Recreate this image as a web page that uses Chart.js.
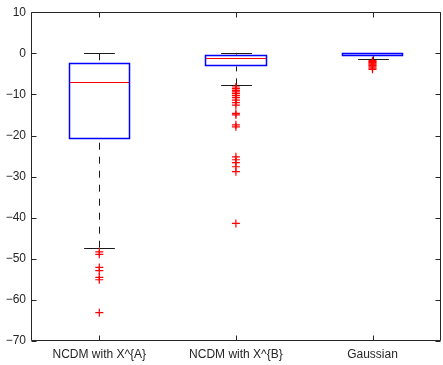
<!DOCTYPE html>
<html>
<head>
<meta charset="utf-8">
<script src="https://cdn.jsdelivr.net/npm/chart.js@4/dist/chart.umd.min.js"></script>
<style>
html,body{margin:0;padding:0;background:#fff;overflow:hidden;}
#wrap{width:446px;height:365px;}
</style>
</head>
<body>
<div id="wrap"><canvas id="c" width="446" height="365"></canvas></div>
<script>
// ---- data ----
const categories = ['NCDM with X^{A}', 'NCDM with X^{B}', 'Gaussian'];
const q1 = [-20.8, -3.2, -0.7];
const q3 = [-2.4, -0.3, 0.0];
const medians = [-6.9, -1.1, -0.3];
const whiskerLow = [-47.3, -7.8, -1.5];
const whiskerHigh = [0.0, 0.1, 0.05];
const outliersA = [-48.3, -48.9, -52.1, -52.9, -54.5, -55.1, -63.1];
const outliersB = [-8.2, -8.6, -9.0, -9.4, -9.8, -10.3, -10.8, -11.4, -12.0, -12.6,
                   -14.6, -15.0, -17.4, -17.9, -25.2, -25.9, -26.6, -27.6, -28.8, -41.4];
const outliersC = [-1.8, -2.0, -2.2, -2.4, -2.6, -2.8, -3.0, -3.3, -3.6, -3.9];
const yTicks = [-70, -60, -50, -40, -30, -20, -10, 0, 10];

const outlierLists = [outliersA, outliersB, outliersC];
const outlierPoints = [];
outlierLists.forEach((list, i) => list.forEach(v => outlierPoints.push({x: categories[i], y: v})));

const AXIS = '#262626';
const FONT = {family: '"Liberation Sans", Arial, Helvetica, sans-serif', size: 12};

const boxPlugin = {
  id: 'boxExtras',
  beforeDatasetsDraw(chart) {
    const ctx = chart.ctx, xs = chart.scales.x, ys = chart.scales.y;
    const meta = chart.getDatasetMeta(0);
    ctx.save();
    categories.forEach((c, i) => {
      const x = Math.round(xs.getPixelForValue(i)) + 0.5;
      const bar = meta.data[i];
      const half = bar.width / 2;
      const capHalf = half / 2;
      ctx.strokeStyle = '#1a1a1a';
      ctx.lineWidth = 1;
      ctx.setLineDash([7, 7]);
      ctx.beginPath();
      ctx.moveTo(x, ys.getPixelForValue(whiskerLow[i]));
      ctx.lineTo(x, ys.getPixelForValue(q1[i]));
      ctx.moveTo(x, ys.getPixelForValue(whiskerHigh[i]));
      ctx.lineTo(x, ys.getPixelForValue(q3[i]));
      ctx.stroke();
      ctx.setLineDash([]);
      ctx.beginPath();
      [whiskerLow[i], whiskerHigh[i]].forEach(v => {
        const y = Math.round(ys.getPixelForValue(v)) + 0.5;
        ctx.moveTo(x - capHalf, y);
        ctx.lineTo(x + capHalf, y);
      });
      ctx.stroke();
    });
    ctx.restore();
  },
  afterDatasetsDraw(chart) {
    const ctx = chart.ctx, xs = chart.scales.x, ys = chart.scales.y;
    const meta = chart.getDatasetMeta(0);
    ctx.save();
    categories.forEach((c, i) => {
      const bar = meta.data[i];
      const half = bar.width / 2;
      const x = xs.getPixelForValue(i);
      const xl = Math.round(x - half) + 0.5, xr = Math.round(x + half) - 0.5;
      const yt = Math.round(Math.min(bar.y, bar.base)) + 0.5;
      const yb = Math.round(Math.max(bar.y, bar.base)) - 0.5;
      // median
      ctx.strokeStyle = '#ff0000';
      ctx.lineWidth = 1;
      const y = Math.round(ys.getPixelForValue(medians[i])) + 0.5;
      ctx.beginPath();
      ctx.moveTo(xl, y);
      ctx.lineTo(xr, y);
      ctx.stroke();
      // box outline
      ctx.strokeStyle = '#0000ff';
      ctx.lineWidth = 1.5;
      ctx.beginPath();
      ctx.rect(xl, yt, xr - xl, Math.max(yb - yt, 1));
      ctx.stroke();
    });
    ctx.restore();
  },
  afterDraw(chart) {
    const ctx = chart.ctx, a = chart.chartArea, xs = chart.scales.x, ys = chart.scales.y;
    const L = Math.round(a.left) + 0.5, R = Math.round(a.right) - 0.5;
    const T = Math.round(a.top) + 0.5, B = Math.round(a.bottom) - 0.5;
    ctx.save();
    ctx.strokeStyle = AXIS;
    ctx.lineWidth = 1;
    ctx.beginPath();
    ctx.rect(L, T, R - L, B - T);
    yTicks.forEach(v => {
      const y = Math.round(ys.getPixelForValue(v)) + 0.5;
      ctx.moveTo(L, y); ctx.lineTo(L + 5, y);
      ctx.moveTo(R, y); ctx.lineTo(R - 5, y);
    });
    categories.forEach((c, i) => {
      const x = Math.round(xs.getPixelForValue(i)) + 0.5;
      ctx.moveTo(x, B); ctx.lineTo(x, B - 5);
      ctx.moveTo(x, T); ctx.lineTo(x, T + 5);
    });
    ctx.stroke();
    ctx.restore();
  }
};

new Chart(document.getElementById('c'), {
  type: 'bar',
  data: {
    labels: categories,
    datasets: [
      {
        type: 'bar',
        data: categories.map((c, i) => [q1[i], q3[i]]),
        backgroundColor: 'rgba(0,0,0,0)',
        borderColor: 'rgba(0,0,0,0)',
        borderWidth: 0,
        borderSkipped: false,
        barPercentage: 0.45,
        categoryPercentage: 1.0,
        order: 2
      },
      {
        type: 'line',
        data: outlierPoints,
        showLine: false,
        pointStyle: 'cross',
        pointRadius: 4,
        pointBorderWidth: 1.2,
        pointBorderColor: '#ff0000',
        pointBackgroundColor: '#ff0000',
        order: 1
      }
    ]
  },
  options: {
    responsive: false,
    animation: false,
    events: [],
    layout: {padding: {top: 12, right: 1, left: 0, bottom: 0}},
    plugins: {legend: {display: false}, tooltip: {enabled: false}},
    scales: {
      x: {
        type: 'category',
        offset: true,
        grid: {display: false, drawTicks: false},
        border: {display: false},
        ticks: {color: AXIS, font: FONT, padding: 6, maxRotation: 0, autoSkip: false},
        afterFit(s) { s.height = 24; }
      },
      y: {
        type: 'linear',
        min: -70,
        max: 10,
        afterBuildTicks(s) { s.ticks = yTicks.map(v => ({value: v})); },
        grid: {display: false, drawTicks: false},
        border: {display: false},
        ticks: {
          color: AXIS, font: FONT, padding: 5,
          callback: v => (v < 0 ? '\u2212' + Math.abs(v) : String(v))
        },
        afterFit(s) { s.width = 31; }
      }
    }
  },
  plugins: [boxPlugin]
});
</script>
</body>
</html>
